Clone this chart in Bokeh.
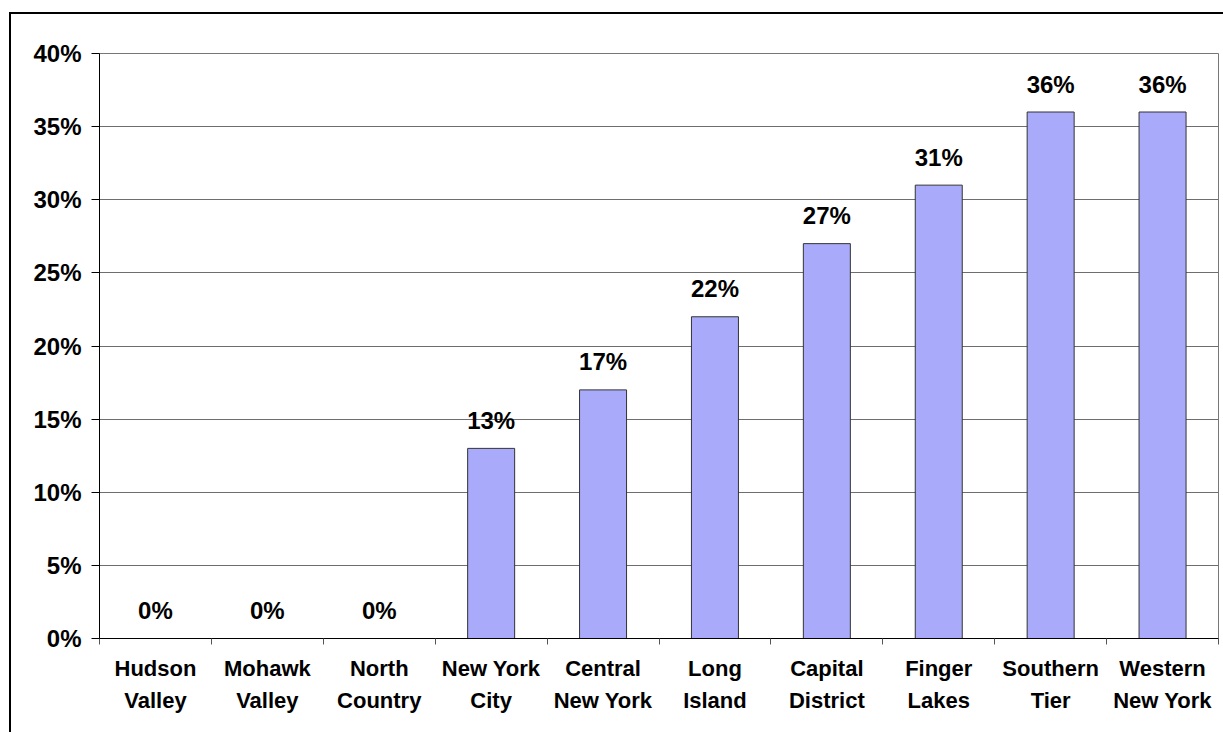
from bokeh.plotting import figure
from bokeh.models import (Range1d, LinearAxis, FixedTicker,
                          NumeralTickFormatter, ColumnDataSource)
from bokeh.core.properties import value
from bokeh.embed import file_html
from bokeh.resources import INLINE

regions = ["Hudson Valley", "Mohawk Valley", "North Country", "New York City",
           "Central New York", "Long Island", "Capital District", "Finger Lakes",
           "Southern Tier", "Western New York"]
region_labels = ["Hudson\nValley", "Mohawk\nValley", "North\nCountry", "New York\nCity",
                 "Central\nNew York", "Long\nIsland", "Capital\nDistrict", "Finger\nLakes",
                 "Southern\nTier", "Western\nNew York"]
shares = [0.00, 0.00, 0.00, 0.13, 0.17, 0.22, 0.27, 0.31, 0.36, 0.36]
share_labels = ["0%", "0%", "0%", "13%", "17%", "22%", "27%", "31%", "36%", "36%"]
y_ticks = [0.0, 0.05, 0.10, 0.15, 0.20, 0.25, 0.30, 0.35, 0.40]

FONT = "Liberation Sans"
n = len(regions)
centers = [i + 0.5 for i in range(n)]
edges = list(range(n + 1))

src = ColumnDataSource(dict(x=centers, region=regions, share=shares, label=share_labels))

p = figure(width=1223, height=732,
           x_range=Range1d(0, n),
           y_range=Range1d(y_ticks[0], y_ticks[-1]),
           output_backend="svg", toolbar_location=None,
           x_axis_location=None,
           min_border_left=99, min_border_top=53, min_border_right=5, min_border_bottom=94)
p.background_fill_color = "white"
p.border_fill_color = None
p.outline_line_color = "#777777"
p.outline_line_width = 1
# outer chart border (left and top edges), painted behind the transparent canvas border
p.styles = {"box-shadow": "inset 9px 12px 0 0 white, inset 11px 14px 0 0 black",
            "background-color": "white"}

for g in p.xgrid:
    g.visible = False
p.ygrid.grid_line_color = "#6e6e6e"
p.ygrid.grid_line_width = 1

# y axis
ya = p.yaxis[0]
ya.ticker = FixedTicker(ticks=y_ticks)
ya.formatter = NumeralTickFormatter(format="0%")
ya.major_tick_out = 8
ya.major_tick_in = 0
ya.minor_tick_line_color = None
ya.axis_line_color = "black"
ya.major_tick_line_color = "black"
ya.major_label_standoff = 10
ya.major_label_text_font = FONT
ya.major_label_text_font_style = "bold"
ya.major_label_text_font_size = "24px"
ya.major_label_text_color = "black"

# boundary ticks axis
tick_axis = LinearAxis(ticker=FixedTicker(ticks=edges),
                       major_label_overrides={e: "" for e in edges},
                       major_tick_out=6, major_tick_in=0,
                       minor_tick_line_color=None,
                       axis_line_color="black", major_tick_line_color="#555555",
                       major_label_standoff=0)
p.add_layout(tick_axis, "below")

cat_axis = LinearAxis(ticker=FixedTicker(ticks=centers),
                      major_label_overrides=dict(zip(centers, region_labels)),
                      axis_line_color=None, major_tick_line_color=None,
                      minor_tick_line_color=None,
                      major_tick_out=0, major_tick_in=0,
                      major_label_standoff=11,
                      major_label_text_font=FONT,
                      major_label_text_font_style="bold",
                      major_label_text_font_size="22px",
                      major_label_text_line_height=1.3,
                      major_label_text_color="black")
p.add_layout(cat_axis, "below")

p.vbar(x="x", top="share", width=0.42, source=src,
       fill_color="#A9ABFA", line_color="#333333", line_width=1)

p.text(x="x", y="share", text="label", source=src,
       text_align="center", text_baseline="alphabetic", y_offset=-28,
       text_font=value(FONT), text_font_style="bold", text_font_size="24px",
       text_color="black")

open("out.html", "w").write(file_html(p, INLINE))
